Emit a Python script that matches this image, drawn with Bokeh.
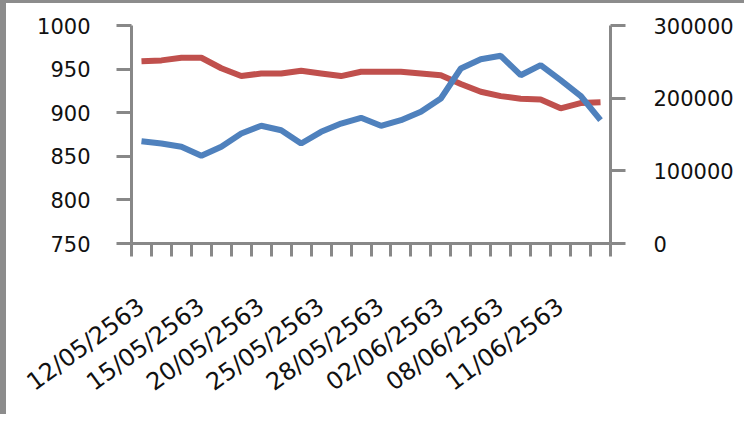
from bokeh.plotting import figure
from bokeh.models import Range1d, LinearAxis, FixedTicker, BasicTickFormatter
from bokeh.embed import file_html
from bokeh.resources import INLINE

# ---- data ----
dates = ["12/05/2563", "13/05/2563", "14/05/2563", "15/05/2563", "18/05/2563", "19/05/2563",
         "20/05/2563", "21/05/2563", "22/05/2563", "25/05/2563", "26/05/2563", "27/05/2563",
         "28/05/2563", "29/05/2563", "01/06/2563", "02/06/2563", "04/06/2563", "05/06/2563",
         "08/06/2563", "09/06/2563", "10/06/2563", "11/06/2563", "12/06/2563", "15/06/2563"]
red_values = [959, 960, 963, 963, 951, 942, 945, 945, 948, 945, 942, 947,
              947, 947, 945, 943, 933, 924, 919, 916, 915, 905, 911, 912]
blue_values = [140800, 137600, 133100, 120700, 133100, 151400, 162000, 155900,
               137600, 153700, 165100, 173000, 162000, 169700, 181200, 199500,
               240800, 253600, 258300, 231600, 245400, 224700, 203300, 169700]
left_ticks = [750, 800, 850, 900, 950, 1000]
right_ticks = [0, 100000, 200000, 300000]
label_every = 3

x = list(range(len(dates)))
GRAY = "#888888"
FONT = "DejaVu Sans"

p = figure(width=744, height=414, output_backend="svg", toolbar_location=None,
           x_range=Range1d(-0.5, len(dates) - 0.5), y_range=Range1d(750, 1000),
           min_border_left=125, min_border_right=140, min_border_top=22, min_border_bottom=174)
p.styles = {"border-left": "6px solid #8c8c8c", "border-top": "3px solid #8c8c8c"}
p.extra_y_ranges = {"right": Range1d(0, 300000)}
p.outline_line_color = None
p.grid.visible = False
p.background_fill_color = "white"
p.border_fill_color = "white"

p.line(x, red_values, line_color="#C0504D", line_width=6)
p.line(x, blue_values, line_color="#4F81BD", line_width=6, y_range_name="right")

# x axis
xa = p.xaxis[0]
label_pos = x[::label_every]
xa.ticker = FixedTicker(ticks=label_pos, minor_ticks=[i - 0.5 for i in range(len(dates) + 1)])
xa.major_label_overrides = {i: dates[i] for i in label_pos}
xa.major_tick_line_color = None
xa.minor_tick_line_color = GRAY
xa.minor_tick_line_width = 3
xa.minor_tick_out = 13
xa.minor_tick_in = 0
xa.axis_line_color = GRAY
xa.axis_line_width = 3
xa.major_label_orientation = 0.63
xa.major_label_standoff = 47
xa.major_label_text_font = FONT
xa.major_label_text_font_size = "24px"
xa.major_label_text_color = "#111111"

# left axis
ya = p.yaxis[0]
ya.ticker = FixedTicker(ticks=left_ticks)
ya.axis_line_color = GRAY
ya.axis_line_width = 3
ya.major_tick_line_color = GRAY
ya.major_tick_line_width = 3
ya.major_tick_out = 15
ya.major_tick_in = 0
ya.minor_tick_line_color = None
ya.major_label_standoff = 26
ya.major_label_text_font = FONT
ya.major_label_text_font_size = "21px"
ya.major_label_text_color = "#111111"

# right axis
ra = LinearAxis(y_range_name="right", ticker=FixedTicker(ticks=right_ticks),
                formatter=BasicTickFormatter(use_scientific=False))
ra.axis_line_color = GRAY
ra.axis_line_width = 3
ra.major_tick_line_color = GRAY
ra.major_tick_line_width = 3
ra.major_tick_out = 15
ra.major_tick_in = 0
ra.minor_tick_line_color = None
ra.major_label_standoff = 28
ra.major_label_text_font = FONT
ra.major_label_text_font_size = "21px"
ra.major_label_text_color = "#111111"
p.add_layout(ra, "right")

open("out.html", "w").write(file_html(p, INLINE))
